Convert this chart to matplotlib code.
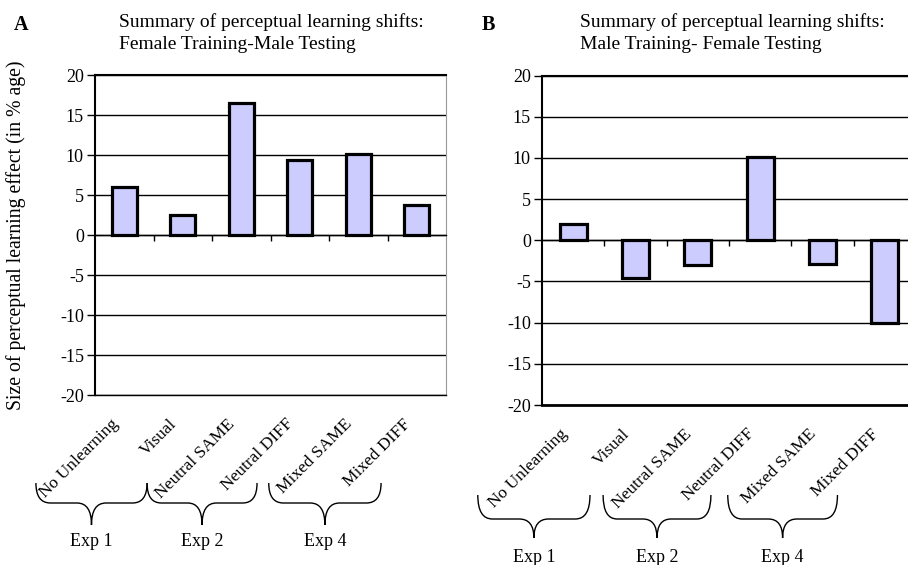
import matplotlib
matplotlib.use("Agg")
import matplotlib.pyplot as plt
from matplotlib.path import Path
from matplotlib.patches import PathPatch
from matplotlib.transforms import blended_transform_factory

plt.rcParams["font.family"] = ["Liberation Serif", "DejaVu Serif"]
plt.rcParams["axes.unicode_minus"] = False

CONDITIONS = ["No Unlearning", "Visual", "Neutral SAME", "Neutral DIFF",
              "Mixed SAME", "Mixed DIFF"]
FEMALE_TRAIN_MALE_TEST = [6.0, 2.5, 16.5, 9.4, 10.1, 3.7]
MALE_TRAIN_FEMALE_TEST = [2.0, -4.6, -3.0, 10.1, -2.9, -10.0]
EXPERIMENTS = ["Exp 1", "Exp 2", "Exp 4"]
Y_TICKS = [-20, -15, -10, -5, 0, 5, 10, 15, 20]

BAR_FACE = "#ccccff"
FS = 13


def draw_brace(fig, ax, x0, x1, y_top, y_mid, y_bot, label, y_label):
    # x in data units, y in figure fraction
    trans = blended_transform_factory(ax.transData, fig.transFigure)
    xc = (x0 + x1) / 2
    r = (x1 - x0) * 0.13
    verts = [
        (x0, y_top), (x0, y_mid), (x0 + r, y_mid),
        (xc - r, y_mid),
        (xc, y_mid), (xc, y_bot),
        (xc, y_mid), (xc + r, y_mid),
        (x1 - r, y_mid),
        (x1, y_mid), (x1, y_top),
    ]
    codes = [Path.MOVETO, Path.CURVE3, Path.CURVE3, Path.LINETO,
             Path.CURVE3, Path.CURVE3, Path.CURVE3, Path.CURVE3,
             Path.LINETO, Path.CURVE3, Path.CURVE3]
    patch = PathPatch(Path(verts, codes), transform=trans, fill=False,
                      lw=1.0, color="black", clip_on=False)
    fig.add_artist(patch)
    fig.text(xc, y_label, label, transform=trans, fontsize=FS,
             ha="center", va="center")


def plot_panel(fig, ax, values, letter, title, title_x, letter_x, braces,
               brace_y, bottom_lw):
    x = list(range(len(CONDITIONS)))
    ax.bar(x, values, width=0.43, color=BAR_FACE, edgecolor="black",
           linewidth=2.3, zorder=3)

    ax.set_xlim(-0.5, len(CONDITIONS) - 0.5)
    ax.set_ylim(Y_TICKS[0], Y_TICKS[-1])
    ax.set_yticks(Y_TICKS)
    ax.set_yticklabels([str(t) for t in Y_TICKS], fontsize=FS)
    ax.tick_params(axis="y", direction="out", length=6, width=1, pad=2)
    ax.yaxis.grid(True, color="black", lw=1.0)
    ax.set_axisbelow(True)
    ax.axhline(Y_TICKS[0], color="black", lw=bottom_lw, zorder=4,
               clip_on=False)

    # category boundaries as ticks on the zero line
    ax.spines["bottom"].set_position(("data", 0))
    ax.spines["bottom"].set_linewidth(1.0)
    ax.set_xticks([i + 0.5 for i in x[:-1]])
    ax.set_xticklabels([])
    ax.tick_params(axis="x", direction="out", length=4, width=1)
    ax.spines["left"].set_linewidth(1.5)
    ax.spines["top"].set_linewidth(1.5)
    ax.spines["right"].set_color("#999999")

    trans = blended_transform_factory(ax.transData, ax.transAxes)
    for i, name in enumerate(CONDITIONS):
        ax.annotate(name, xy=(i, 0), xycoords=trans, xytext=(-2, -15),
                    textcoords="offset points", rotation=45, ha="right",
                    va="top", fontsize=FS - 0.5, annotation_clip=False)

    top, mid, bot, lab = brace_y
    for (x0, x1), exp in zip(braces, EXPERIMENTS):
        draw_brace(fig, ax, x0, x1, top, mid, bot, exp, lab)

    fig.text(letter_x / 908, 1 - 25 / 565, letter, fontsize=FS + 1.5,
             fontweight="bold", va="center")
    fig.text(title_x / 908, 1 - 13 / 565, title, fontsize=FS + 1, va="top",
             linespacing=1.4)


fig = plt.figure(figsize=(9.08, 5.65), dpi=100)
ax_a = fig.add_axes([95 / 908, 170 / 565, 351 / 908, 320 / 565])
ax_b = fig.add_axes([542 / 908, 160 / 565, 374 / 908, 329.5 / 565])

plot_panel(fig, ax_a, FEMALE_TRAIN_MALE_TEST, "A",
           "Summary of perceptual learning shifts:\nFemale Training-Male Testing",
           119, 14,
           [(-1.51, 0.39), (0.39, 2.27), (2.47, 4.39)],
           (1 - 483 / 565, 1 - 503 / 565, 1 - 525 / 565, 1 - 541 / 565),
           1.0)
plot_panel(fig, ax_b, MALE_TRAIN_FEMALE_TEST, "B",
           "Summary of perceptual learning shifts:\nMale Training- Female Testing",
           580, 482,
           [(-1.53, 0.27), (0.48, 2.21), (2.48, 4.24)],
           (1 - 495 / 565, 1 - 519 / 565, 1 - 538 / 565, 1 - 557 / 565),
           2.0)

ax_a.set_ylabel("Size of perceptual learning effect (in % age)", fontsize=FS + 1.2)
ax_a.yaxis.set_label_coords(-0.197, 0.5)

fig.savefig("out.png", dpi=100)
